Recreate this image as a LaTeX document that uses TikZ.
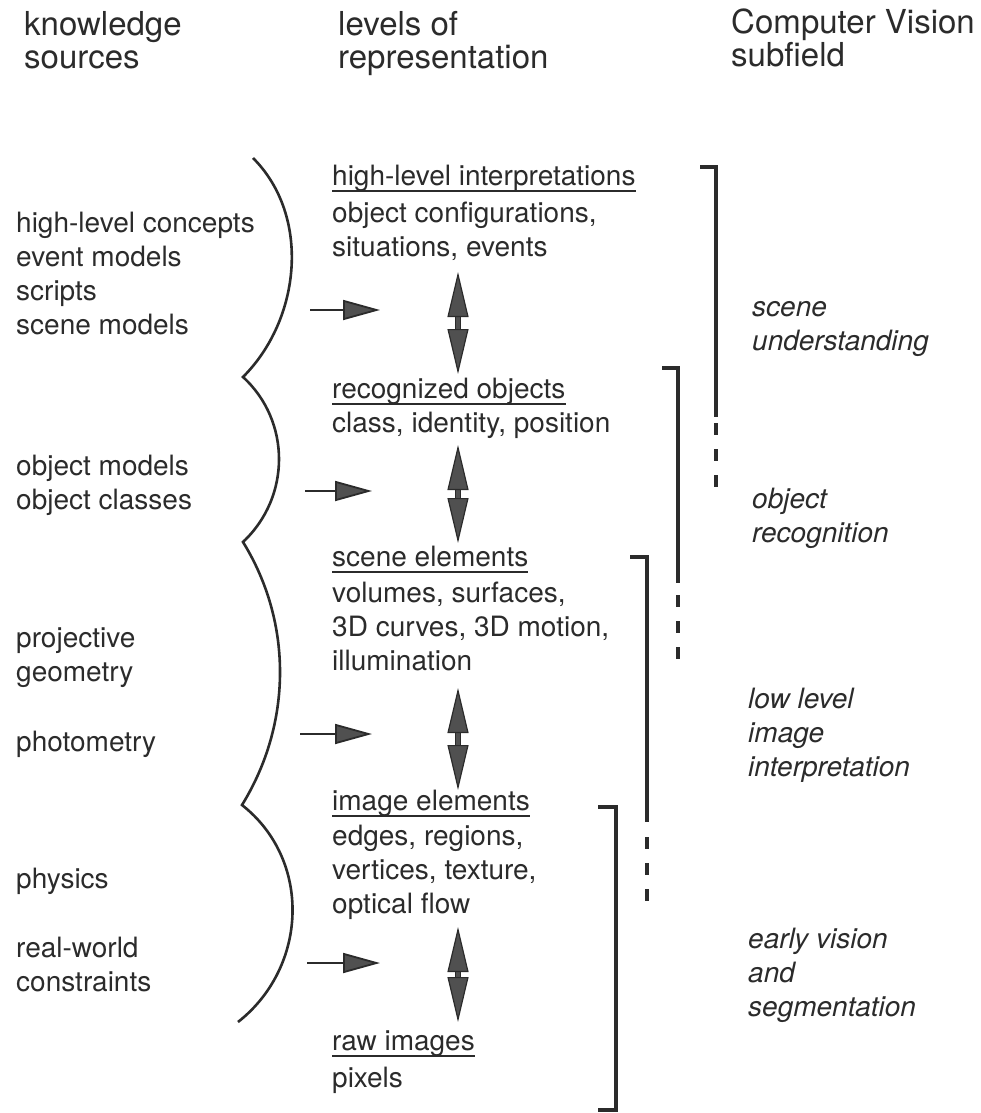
\documentclass[tikz,border=0pt]{standalone}
\usepackage{fontspec}
\setmainfont{TeX Gyre Heros}
\usetikzlibrary{arrows.meta}
\definecolor{ink}{HTML}{2B2B2B}
\definecolor{tipgray}{HTML}{505050}
\tikzset{
  head/.style={anchor=base west,inner sep=0pt,align=left,text=ink,font=\fontsize{33}{33}\selectfont},
  txt/.style={anchor=base west,inner sep=0pt,align=left,text=ink,font=\fontsize{28}{34}\selectfont},
  field/.style={txt,font=\fontsize{28}{34}\selectfont\itshape},
  uline/.style={draw=ink,line width=2.2pt},
  brace/.style={draw=ink,line width=2.6pt},
  bracket/.style={draw=ink,line width=4.5pt,line join=miter},
  dashpart/.style={draw=ink,line width=4.5pt,dash pattern=on 12pt off 14pt},
  srcarrow/.style={draw=ink,line width=1.8pt,-{Triangle[length=37pt,width=20pt,fill=tipgray]}},
  levarrow/.style={draw=ink,line width=1.2pt,double=tipgray,double distance=4pt,
    {Triangle[length=45pt,width=21pt,fill=tipgray]}-{Triangle[length=45pt,width=21pt,fill=tipgray]}}
}
\begin{document}
\begin{tikzpicture}[x=1pt,y=-1pt]
\useasboundingbox (0,0) rectangle (981,1113);

\node[head] (hks) at (24,69) {knowledge\\sources};
\node[head] (hlr) at (338,69) {levels of\\representation};
\node[head] (hcv) at (731,67) {Computer Vision\\subfield};

\node[txt] (ks1) at (16,334) {high-level concepts\\event models\\scripts\\scene models};
\node[txt] (ks2) at (16,509) {object models\\object classes};
\node[txt] (ks3) at (16,681) {projective\\geometry};
\node[txt] (ks3b) at (16,751) {photometry};
\node[txt] (ks4) at (16,888) {physics};
\node[txt] (ks4b) at (16,991) {real-world\\constraints};

\draw[brace] (253,158) .. controls (311,216) and (301,319) .. (243,377)
  .. controls (291,421) and (291,497) .. (243,542)
  .. controls (293,623) and (292,724) .. (242,805)
  .. controls (312,860) and (308,967) .. (238,1022);

\node[txt] (lv1) at (332,185) {high-level interpretations};
\node[txt] (lv1d) at (332,256) {object configurations,\\situations, events};
\node[txt] (lv2) at (332,398) {recognized objects};
\node[txt] (lv2d) at (332,432) {class, identity, position};
\node[txt] (lv3) at (332,566) {scene elements};
\node[txt] (lv3d) at (332,670) {volumes, surfaces,\\3D curves, 3D motion,\\illumination};
\node[txt] (lv4) at (332,810) {image elements};
\node[txt] (lv4d) at (332,913) {edges, regions,\\vertices, texture,\\optical flow};
\node[txt] (lv5) at (332,1050) {raw images};
\node[txt] (lv5d) at (332,1087) {pixels};

\foreach \n in {lv1,lv2,lv3,lv4,lv5}
  \draw[uline] ([yshift=-6pt]\n.base west) -- ([yshift=-6pt]\n.base east);

\coordinate (s1) at (310,310);
\coordinate (t1) at (380,310);
\coordinate (s2) at (305,491);
\coordinate (t2) at (372,491);
\coordinate (s3) at (300,734);
\coordinate (t3) at (372,734);
\coordinate (s4) at (307,963);
\coordinate (t4) at (380,963);
\foreach \i in {1,...,4}
  \draw[srcarrow] (s\i) -- (t\i);

\coordinate (u1) at (458,272);
\coordinate (d1) at (458,374);
\coordinate (u2) at (458,445);
\coordinate (d2) at (458,543);
\coordinate (u3) at (458,688);
\coordinate (d3) at (458,790);
\coordinate (u4) at (458,927);
\coordinate (d4) at (458,1022);
\foreach \i in {1,...,4}
  \draw[levarrow] (u\i) -- (d\i);

\draw[bracket] (700,167) -- (716,167) -- (716,417);
\draw[dashpart] (716,423) -- (716,492);
\draw[bracket] (662,368) -- (678,368) -- (678,583);
\draw[dashpart] (678,595) -- (678,664);
\draw[bracket] (630,557) -- (647,557) -- (647,822);
\draw[dashpart] (647,837) -- (647,904);
\draw[bracket] (598,807) -- (616,807) -- (616,1110) -- (598,1110);

\node[field] (cv1) at (752,350) {scene\\understanding};
\node[field] (cv2) at (752,542) {object\\recognition};
\node[field] (cv3) at (748,776) {low level\\image\\interpretation};
\node[field] (cv4) at (748,1016) {early vision\\and\\segmentation};
\end{tikzpicture}
\end{document}
